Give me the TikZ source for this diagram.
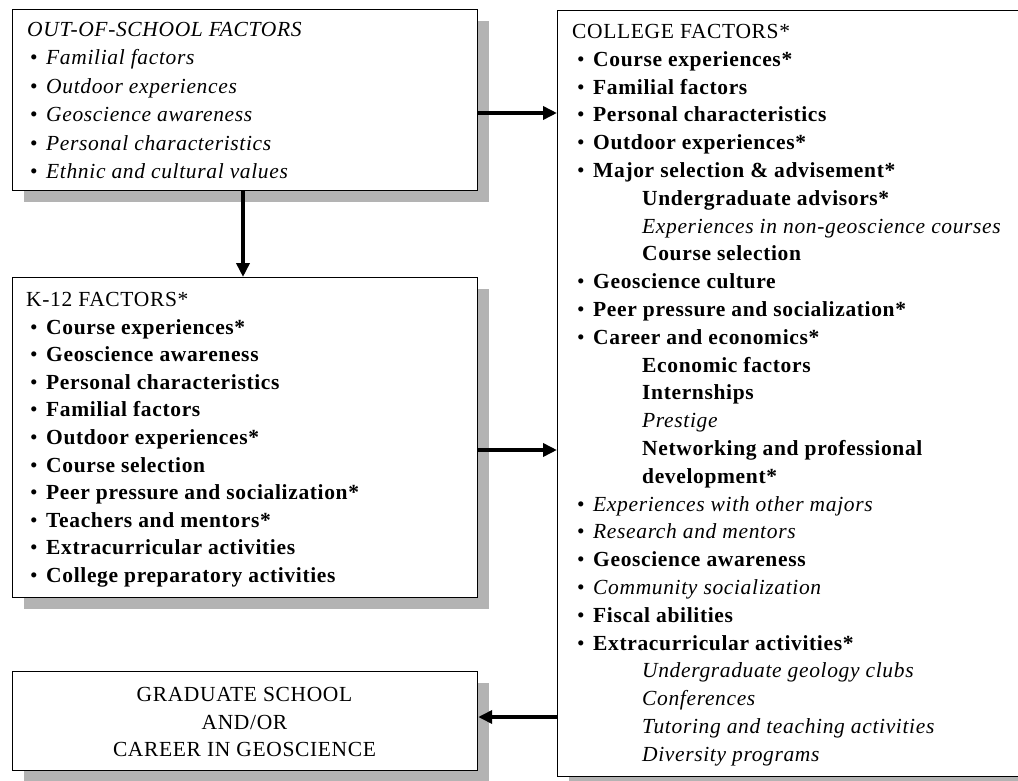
\documentclass[tikz,border=0pt]{standalone}
\usepackage{fontspec}
\setmainfont{Liberation Serif}[LetterSpace=3]
\usetikzlibrary{arrows.meta,shadows}
\definecolor{shadowgray}{HTML}{B3B3B3}
\newcommand\bpt{\makebox[16pt][l]{\normalfont\textbullet}}
\tikzset{
  box/.style={draw=black, line width=1.2pt, fill=white, inner sep=0, anchor=north west,
    drop shadow={shadow xshift=11pt, shadow yshift=-11pt, fill=shadowgray, opacity=1}},
  t/.style={anchor=base west, inner sep=0, font=\fontsize{21.5}{24}\selectfont},
  tb/.style={anchor=base west, inner sep=0, font=\fontsize{21.5}{24}\selectfont\bfseries},
  ti/.style={anchor=base west, inner sep=0, font=\fontsize{21.5}{24}\selectfont\itshape},
  tc/.style={anchor=base, inner sep=0, font=\fontsize{21.5}{24}\selectfont},
  arr/.style={line width=3.5pt, -{Triangle[length=14pt,width=13pt]}}
}
\begin{document}
\begin{tikzpicture}[x=1pt,y=-1pt]
\useasboundingbox (0,0) rectangle (1018,781);
\begin{scope}
\clip (0,0) rectangle (1018,781);
% boxes
\node[box, minimum width=465pt, minimum height=181pt] (b1) at (12,9) {};
\node[box, minimum width=465pt, minimum height=320pt] (b2) at (12,277) {};
\node[box, minimum width=520pt, minimum height=766pt] (b3) at (557,10) {};
\node[box, minimum width=465pt, minimum height=99pt] (b4) at (12,671) {};
\end{scope}
% arrows
\coordinate (ya) at (0,113);
\coordinate (yb) at (0,450);
\coordinate (yc) at (0,717);
\coordinate (xv) at (243,0);
\draw[arr] (b1.east |- ya) -- (b3.west |- ya);
\draw[arr] (b1.south -| xv) -- (b2.north -| xv);
\draw[arr] (b2.east |- yb) -- (b3.west |- yb);
\draw[arr] (b3.west |- yc) -- (b4.east |- yc);
% box 1
\node[ti] (o0) at (27,36.5) {OUT-OF-SCHOOL FACTORS};
\node[ti] (o1) at (30,64.9) {\bpt Familial factors};
\node[ti] (o2) at (30,93.3) {\bpt Outdoor experiences};
\node[ti] (o3) at (30,121.7) {\bpt Geoscience awareness};
\node[ti] (o4) at (30,150.1) {\bpt Personal characteristics};
\node[ti] (o5) at (30,178.5) {\bpt Ethnic and cultural values};
% box 2
\node[t] (k0) at (26,306.5) {K-12 FACTORS*};
\node[tb] (k1) at (30,334.1) {\bpt Course experiences*};
\node[tb] (k2) at (30,361.7) {\bpt Geoscience awareness};
\node[tb] (k3) at (30,389.3) {\bpt Personal characteristics};
\node[tb] (k4) at (30,416.9) {\bpt Familial factors};
\node[tb] (k5) at (30,444.5) {\bpt Outdoor experiences*};
\node[tb] (k6) at (30,472.1) {\bpt Course selection};
\node[tb] (k7) at (30,499.7) {\bpt Peer pressure and socialization*};
\node[tb] (k8) at (30,527.3) {\bpt Teachers and mentors*};
\node[tb] (k9) at (30,554.9) {\bpt Extracurricular activities};
\node[tb] (k10) at (30,582.5) {\bpt College preparatory activities};
% box 3
\node[t]  (c0)  at (572,38.5) {COLLEGE FACTORS*};
\node[tb] (c1)  at (577,66.3) {\bpt Course experiences*};
\node[tb] (c2)  at (577,94.1) {\bpt Familial factors};
\node[tb] (c3)  at (577,121.9) {\bpt Personal characteristics};
\node[tb] (c4)  at (577,149.7) {\bpt Outdoor experiences*};
\node[tb] (c5)  at (577,177.5) {\bpt Major selection \& advisement*};
\node[tb] (c6)  at (642,205.3) {Undergraduate advisors*};
\node[ti] (c7)  at (642,233.1) {Experiences in non-geoscience courses};
\node[tb] (c8)  at (642,260.9) {Course selection};
\node[tb] (c9)  at (577,288.7) {\bpt Geoscience culture};
\node[tb] (c10) at (577,316.5) {\bpt Peer pressure and socialization*};
\node[tb] (c11) at (577,344.3) {\bpt Career and economics*};
\node[tb] (c12) at (642,372.1) {Economic factors};
\node[tb] (c13) at (642,399.9) {Internships};
\node[ti] (c14) at (642,427.7) {Prestige};
\node[tb] (c15) at (642,455.5) {Networking and professional};
\node[tb] (c16) at (642,483.3) {development*};
\node[ti] (c17) at (577,511.1) {\bpt Experiences with other majors};
\node[ti] (c18) at (577,538.9) {\bpt Research and mentors};
\node[tb] (c19) at (577,566.7) {\bpt Geoscience awareness};
\node[ti] (c20) at (577,594.5) {\bpt Community socialization};
\node[tb] (c21) at (577,622.3) {\bpt Fiscal abilities};
\node[tb] (c22) at (577,650.1) {\bpt Extracurricular activities*};
\node[ti] (c23) at (642,677.9) {Undergraduate geology clubs};
\node[ti] (c24) at (642,705.7) {Conferences};
\node[ti] (c25) at (642,733.5) {Tutoring and teaching activities};
\node[ti] (c26) at (642,761.3) {Diversity programs};
% box 4
\node[tc] (g1) at (244.5,701.5) {GRADUATE SCHOOL};
\node[tc] (g2) at (244.5,729) {AND/OR};
\node[tc] (g3) at (244.5,756.5) {CAREER IN GEOSCIENCE};
\end{tikzpicture}
\end{document}
